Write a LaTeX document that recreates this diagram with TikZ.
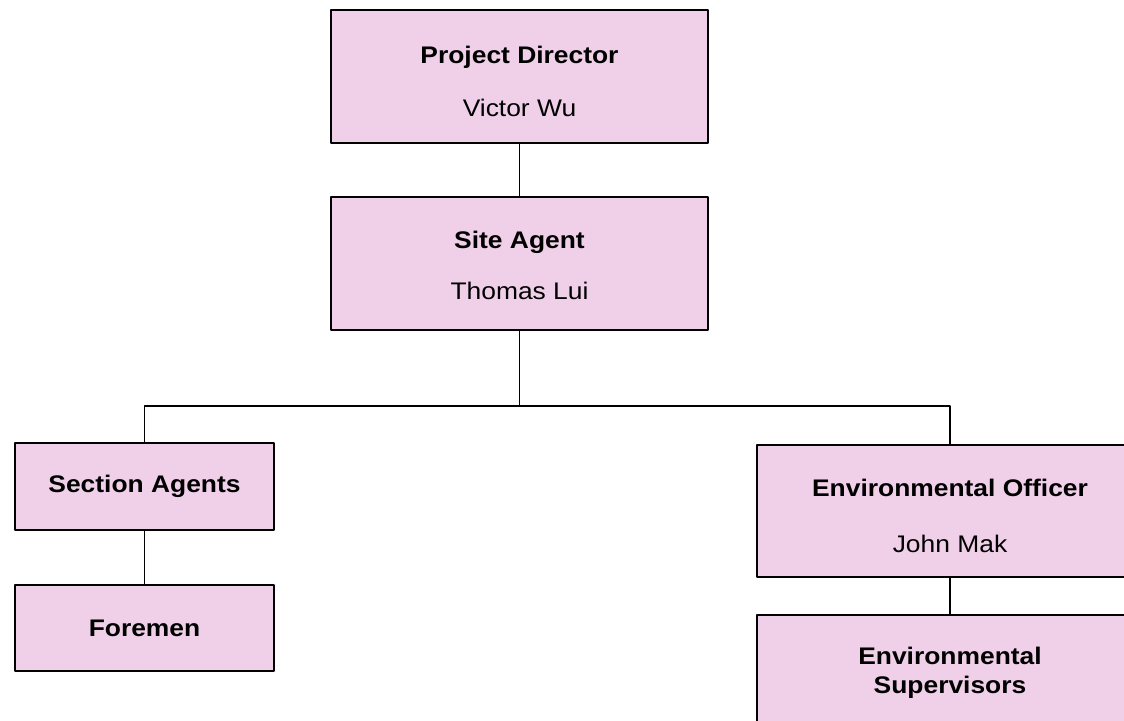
\documentclass[tikz,border=0pt]{standalone}
\usepackage{fontspec}
\setmainfont[FakeStretch=1.1]{Liberation Sans}
\definecolor{boxpink}{RGB}{240,208,232}
\begin{document}
\begin{tikzpicture}[x=1pt,y=1pt, line join = round, font=\fontsize{24}{29}\selectfont,
	box/.style={draw=black, line width=1.6pt, fill=boxpink, inner sep=0pt, align=center},
	link/.style={draw=black, line width=1.2pt}]
	\clip (0,0) rectangle (1124,720);
	\fill[white] (0,0) rectangle (1124,720);
	\node[box, minimum width=377, minimum height=133] (pd) at (519.5,643.5) {\rule{0pt}{26.5pt}\textbf{Project Director}\\[24pt]Victor Wu};
	\node[box, minimum width=377, minimum height=133] (sa) at (519.5,456.5) {\rule{0pt}{21.5pt}\textbf{Site Agent}\\[22pt]Thomas Lui};
	\node[box, minimum width=259, minimum height=87] (sec) at (144.5,233.5) {\textbf{Section Agents}};
	\node[box, minimum width=259, minimum height=86] (fore) at (144.5,92) {\textbf{Foremen}};
	\node[box, minimum width=386, minimum height=132] (eo) at (950,209) {\rule{0pt}{27.5pt}\textbf{Environmental Officer}\\[27pt]John Mak};
	\node[box, minimum width=386, minimum height=115] (es) at (950,47.5) {\textbf{Environmental}\\[0pt]\textbf{Supervisors}};
	\coordinate (bus) at (519.5,314);
	\draw[link] (pd) -- (sa);
	\draw[link] (sa) -- (bus);
	\draw[link] (sec.north) |- (bus) -| (eo.north);
	\draw[link] (sec) -- (fore);
	\draw[link] (eo) -- (es);
\end{tikzpicture}
\end{document}
